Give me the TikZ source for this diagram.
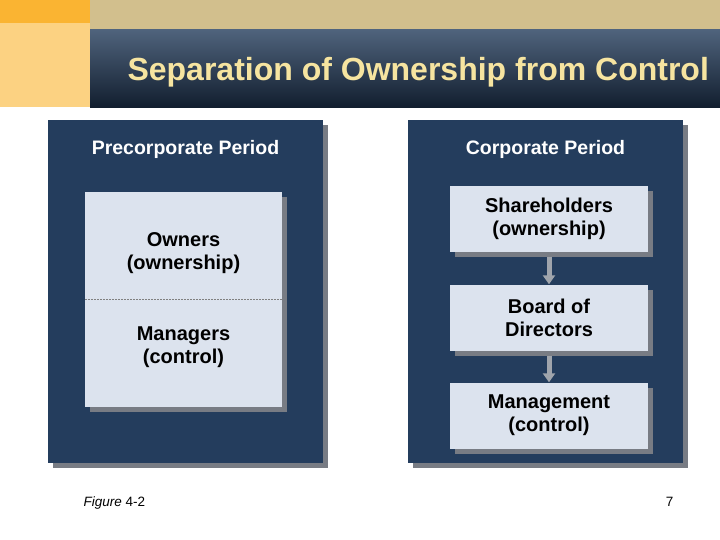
\documentclass[tikz,border=0pt]{standalone}
\usepackage{fontspec}
\setmainfont{Liberation Sans}
\usetikzlibrary{arrows.meta,shadows}

\definecolor{navy}{RGB}{36,61,93}
\definecolor{paleblue}{RGB}{220,227,238}
\definecolor{tanband}{RGB}{210,191,141}
\definecolor{topor}{RGB}{250,180,50}
\definecolor{lightor}{RGB}{252,210,130}
\definecolor{titletext}{RGB}{246,228,160}
\definecolor{shadowgrey}{RGB}{120,124,132}
\definecolor{arrowgrey}{RGB}{160,165,172}

\tikzset{
  panel/.style={fill=navy, minimum width=275pt, minimum height=343pt, inner sep=0pt,
    general shadow={fill=shadowgrey, shadow xshift=5pt, shadow yshift=-5pt}},
  innerbox/.style={fill=paleblue, inner sep=0pt,
    general shadow={fill=shadowgrey, shadow xshift=5pt, shadow yshift=-5pt}},
  boxtext/.style={align=center, font=\bfseries\fontsize{20}{23}\selectfont},
  paneltitle/.style={text=white, font=\bfseries\fontsize{19.5}{22}\selectfont},
  flow/.style={arrowgrey, line width=5pt, -{Triangle[width=12pt,length=9pt]}}
}

\begin{document}
\begin{tikzpicture}[x=1pt, y=-1pt]
\useasboundingbox[fill=white] (0,0) rectangle (720,539);

%header
\fill[tanband] (90,0) rectangle (720,29);
\fill[topor] (0,0) rectangle (90,23);
\fill[lightor] (0,23) rectangle (90,107);
\shade[top color=navy!80!white, bottom color=navy!50!black] (90,29) rectangle (720,107);
\node[anchor=base west, text=titletext, font=\bfseries\fontsize{32}{36}\selectfont] (title) at (124,80) {Separation of Ownership from Control};

%precorporate period
\node[panel] (pre) at (185.5,291.5) {};
\node[paneltitle] (pretitle) at (185.5,149) {Precorporate Period};
\node[innerbox, minimum width=197pt, minimum height=215pt] (prebox) at (183.5,299.5) {};
\draw[gray, thin, dash pattern=on 2pt off 1pt] (prebox.west) -- (prebox.east);
\node[boxtext] (owners) at (183.5,253) {Owners\\(ownership)};
\node[boxtext] (managers) at (183.5,347) {Managers\\(control)};

%corporate period
\node[panel] (corp) at (545.5,291.5) {};
\node[paneltitle] (corptitle) at (545.5,149) {Corporate Period};
\node[innerbox, boxtext, minimum width=198pt, minimum height=66pt] (share) at (549,219) {Shareholders\\(ownership)};
\node[innerbox, boxtext, minimum width=198pt, minimum height=66pt] (board) at (549,317.5) {Board of\\Directors};
\node[innerbox, boxtext, minimum width=198pt, minimum height=66pt] (mgmt) at (549,415.5) {Management\\(control)};
\draw[flow] ([yshift=-5pt]share.south) -- (board.north);
\draw[flow] ([yshift=-5pt]board.south) -- (mgmt.north);

%footer
\node[anchor=base west, font=\fontsize{13.5}{16}\selectfont] (fig) at (80,506) {\textit{Figure} 4-2};
\node[anchor=base east, font=\fontsize{13.5}{16}\selectfont] (page) at (677,506) {7};

\end{tikzpicture}
\end{document}
